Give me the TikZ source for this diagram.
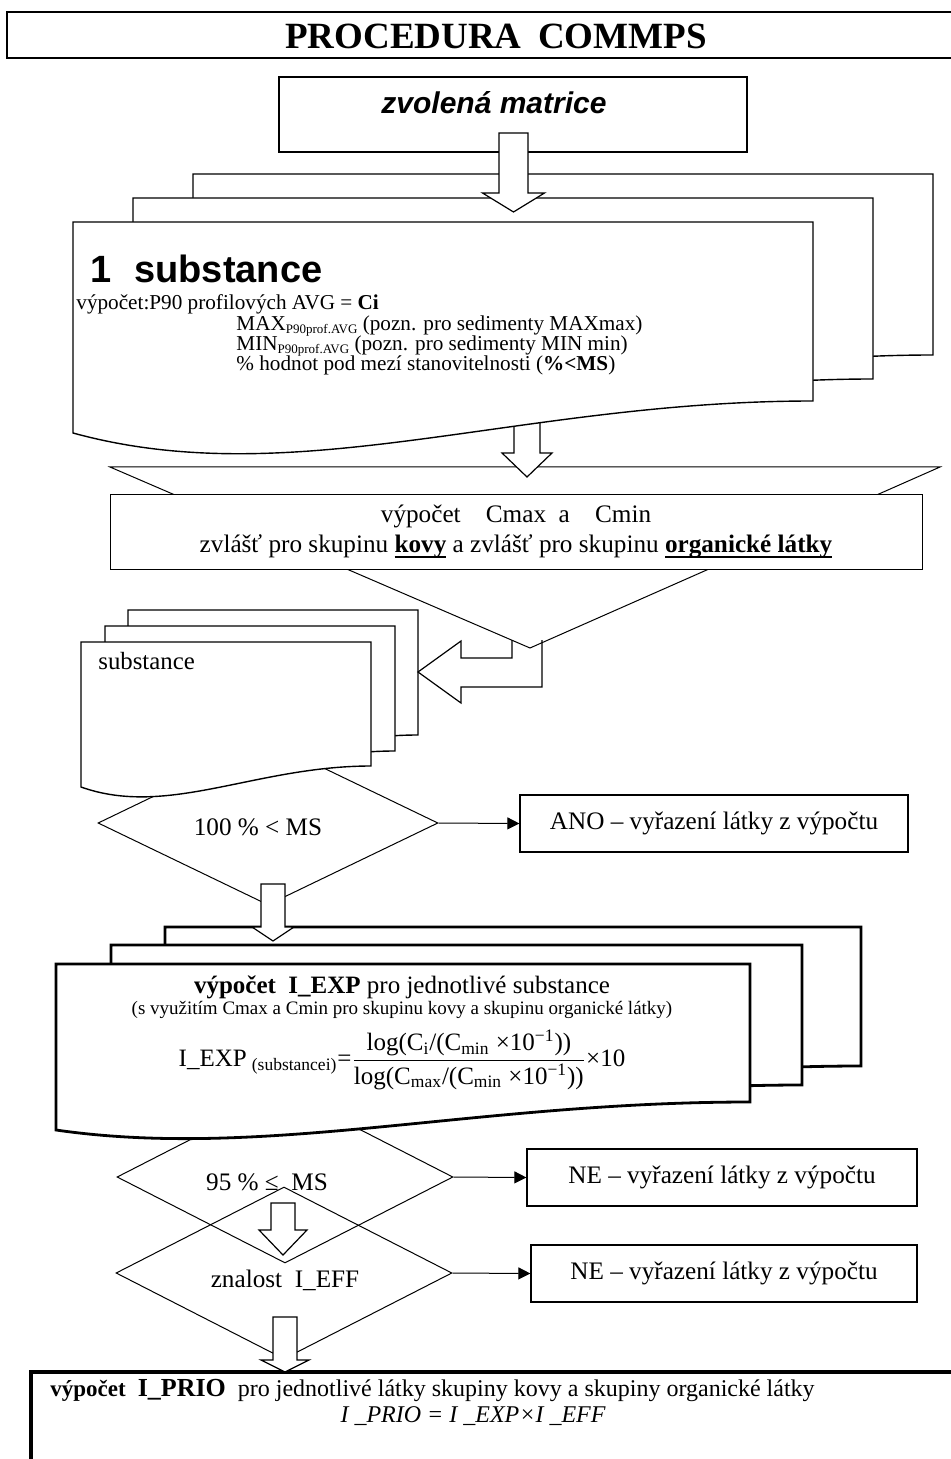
\documentclass[tikz,border=0pt]{standalone}
\usepackage{amsmath}
\usepackage{fontspec}
\setmainfont{Liberation Serif}
\setsansfont{Liberation Sans}
\usepackage{tikz}
\usetikzlibrary{arrows.meta,calc,shapes.geometric}

% one sheet of a stacked document: [style]{name}{left}{top}{width}{height}{drop}{bulge}
\newcommand{\docsheet}[8][sheet]{%
  \draw[#1] (#3,#4) coordinate (#2) -- ++(#5,0) -- ++(0,#6)
    .. controls ({#3+0.6*#5},{#4+#6}) and ({#3+0.3*#5},{#4+#6+#7+#8}) .. ({#3},{#4+#6+#7}) -- cycle;}
% hollow block arrow: {start}{tip}{head length}{shaft half}{head half}
\newcommand{\fatarrow}[5]{%
  \draw[fat] ($(#1)+(-#4,0)$) -- ($(#2)+(-#4,-#3)$) -- ($(#2)+(-#5,-#3)$) -- (#2)
    -- ($(#2)+(#5,-#3)$) -- ($(#2)+(#4,-#3)$) -- ($(#1)+(#4,0)$) -- cycle;}
% heavy underline and tiny index
\newcommand{\heavyul}[1]{\setbox0\hbox{#1}\rlap{\rule[-2.6pt]{\wd0}{1.1pt}}\box0\relax}
\newcommand{\tinyidx}[1]{\raisebox{-1.2pt}{\fontsize{6.5}{7}\selectfont #1}}

\begin{document}
\begin{tikzpicture}[
  x=0.5pt,y=-0.5pt,
  box/.style={draw,line width=0.6pt,fill=white,inner sep=0pt},
  sheet/.style={draw,line width=0.7pt,fill=white},
  thicksheet/.style={sheet,line width=1.4pt},
  decision/.style={draw,diamond,line width=0.5pt,inner sep=0pt},
  fat/.style={draw,fill=white,line width=0.6pt},
  flow/.style={-{Triangle[length=6pt,width=6pt]},line width=0.5pt},
  txt/.style={inner sep=0pt},
  body/.style={font=\fontsize{12.6}{15}\selectfont},
  small/.style={font=\fontsize{10.6}{12}\selectfont}
]
\useasboundingbox (0,0) rectangle (951,1459);
\clip (0,0) rectangle (951,1459);

% title
\node[box,line width=0.8pt,minimum width=478pt,minimum height=23pt] (title) at (485,35) {};
\node[txt,font=\bfseries\fontsize{18.5}{21}\selectfont] (titlelbl) at (496,36) {PROCEDURA\hspace{0.45em}COMMPS};

% chosen matrix
\node[box,minimum width=234pt,minimum height=37.5pt] (matrice) at (513,114.5) {};
\node[txt,font=\sffamily\bfseries\itshape\fontsize{15}{17}\selectfont] (matricelbl) at (494,103) {zvolená matrice};

% Cmax / Cmin merge
\draw[line width=0.5pt] (110,467) -- (940,467) -- (530,648) coordinate (apex) -- cycle;
\node[box,line width=0.5pt,minimum width=406pt,minimum height=37pt,align=center,body] (cmaxbox) at (516,532)
  {výpočet\quad Cmax\ \ a\quad Cmin\\
   zvlášť pro skupinu \heavyul{\textbf{kovy}} a zvlášť pro skupinu \heavyul{\textbf{organické látky}}};

\coordinate (a2s) at (527,410);
\coordinate (a2t) at (527,477);
\fatarrow{a2s}{a2t}{24}{13}{25}

% 1 substance
\docsheet{subB}{193}{174}{740}{181}{32}{61}
\docsheet{subM}{133}{198}{740}{181}{32}{61}
\docsheet{subF}{73}{222}{740}{179}{32}{61}

\coordinate (a1s) at (513.5,133);
\coordinate (a1t) at (513.5,212);
\fatarrow{a1s}{a1t}{19}{14.5}{31}

\node[txt,anchor=base west,font=\sffamily\bfseries\fontsize{19}{22}\selectfont] (subhead) at (90,283) {1\hspace{0.6em}substance};
\node[txt,anchor=base west,small] (calc1) at (76,310) {výpočet:P90 profilových AVG = \textbf{Ci}};
\node[txt,anchor=base west,small] (calc2) at (236,331) {MAX\tinyidx{P90prof.AVG} (pozn. pro sedimenty MAXmax)};
\node[txt,anchor=base west,small] (calc3) at (236,351) {MIN\tinyidx{P90prof.AVG} (pozn. pro sedimenty MIN min)};
\node[txt,anchor=base west,small] (calc4) at (236,371) {\% hodnot pod mezí stanovitelnosti (\textbf{\%<MS})};

% substance loop
\node[decision,minimum width=170pt,minimum height=82pt] (d100) at (268,823) {};
\node[txt,body] (d100lbl) at (258,827) {100 \% < MS};

\docsheet{subsB}{128}{610}{290}{125}{21}{31}
\docsheet{subsM}{105}{626}{290}{125}{21}{31}
\docsheet{subsF}{81}{642}{290}{124}{21}{31}
\node[txt,anchor=base west,font=\fontsize{12.4}{14}\selectfont] (subslbl) at (98,669) {substance};

\coordinate (ltip) at (418,672);
\draw[fat,fill=none] ($(apex)+(-18,-8)$) -- ($(apex)+(-18,10)$) -- ($(ltip)+(43,-14)$) -- ($(ltip)+(43,-31)$)
  -- (ltip) -- ($(ltip)+(43,31)$) -- ($(ltip)+(43,15)$) -- ($(apex)+(12,39)$) -- ($(apex)+(12,-8)$);

\node[box,minimum width=194pt,minimum height=28.5pt,body] (ano) at (714,823.5) {ANO -- vyřazení látky z výpočtu};
\draw[flow] (d100.east) -- (ano.west);

% I_EXP
\node[decision,minimum width=168pt,minimum height=86pt] (d95) at (285,1177) {};
\node[decision,minimum width=168pt,minimum height=86pt] (deff) at (284,1273) {};
\node[txt,body] (d95lbl) at (267,1182) {95 \% ≤\ \ MS};
\node[txt,body] (defflbl) at (285,1280) {znalost\ \ I\_EFF};

\docsheet[thicksheet]{expB}{165}{927}{696}{139}{28}{30}
\docsheet[thicksheet]{expM}{111}{945}{691}{140}{28}{30}
\docsheet[thicksheet]{expF}{56}{964}{694}{138}{28}{30}

\node[txt,font=\fontsize{12.5}{15}\selectfont] (explbl) at (402,987) {\textbf{výpočet\ \ I\_EXP} pro jednotlivé substance};
\node[txt,font=\fontsize{9.5}{11}\selectfont] (expnote) at (402,1010) {(s využitím Cmax a Cmin pro skupinu kovy a skupinu organické látky)};
\node[txt,font=\fontsize{12.5}{15}\selectfont] (expformula) at (402,1060)
  {$\text{I\_EXP}_{\;\text{(substancei)}}\text{=}\dfrac{\text{log(C\textsubscript{i}/(C\textsubscript{min} ×10\textsuperscript{−1}))}}{\text{log(C\textsubscript{max}/(C\textsubscript{min} ×10\textsuperscript{−1}))}}\text{×10}$};

\coordinate (a4s) at (273,884);
\coordinate (a4t) at (273,941);
\fatarrow{a4s}{a4t}{14}{12}{21}
\coordinate (a5s) at (283,1203);
\coordinate (a5t) at (283,1255);
\fatarrow{a5s}{a5t}{25}{12}{24}

\node[box,minimum width=195pt,minimum height=28.5pt,body] (ne1) at (722,1177.5) {NE -- vyřazení látky z výpočtu};
\draw[flow] (d95.east) -- (ne1.west);
\node[box,minimum width=193pt,minimum height=28.5pt,body] (ne2) at (724,1273.5) {NE -- vyřazení látky z výpočtu};
\draw[flow] (deff.east) -- (ne2.west);

% I_PRIO
\node[box,line width=2pt,minimum width=467pt,minimum height=51.5pt] (prio) at (498,1423.5) {};
\coordinate (a6s) at (285,1317);
\coordinate (a6t) at (285,1372);
\fatarrow{a6s}{a6t}{12}{12}{24}
\node[txt,anchor=base west,font=\fontsize{12}{14}\selectfont] (priolbl) at (50,1396)
  {{\fontsize{11.5}{14}\selectfont\textbf{výpočet}}\ \ {\fontsize{13}{14}\selectfont\textbf{I\_PRIO}}\ \ pro jednotlivé látky skupiny kovy a skupiny organické látky};
\node[txt,anchor=base,font=\itshape\fontsize{12}{14}\selectfont] (prioeq) at (473,1422) {I \_PRIO = I \_EXP×I \_EFF};
\end{tikzpicture}
\end{document}
